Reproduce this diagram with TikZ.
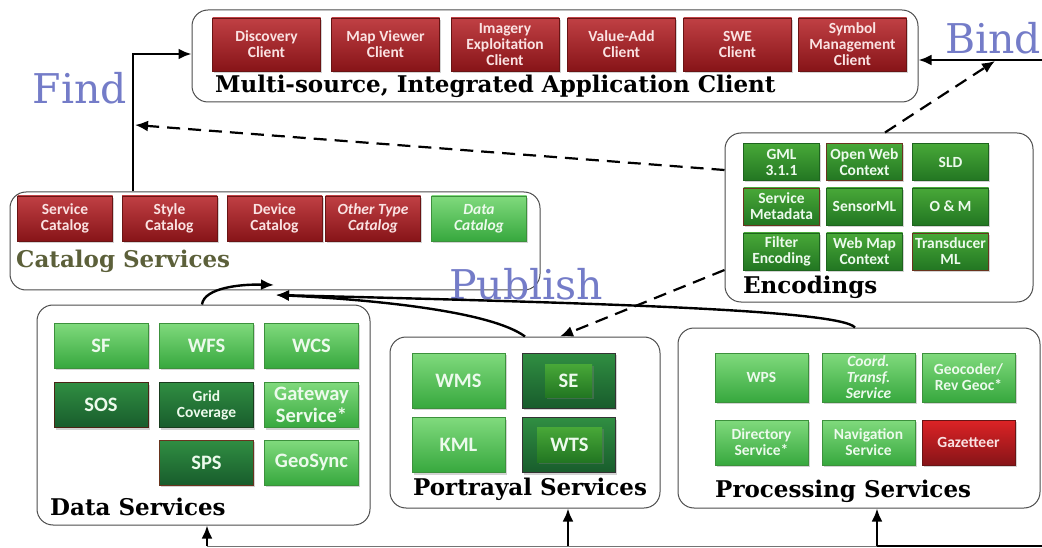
\documentclass[tikz,border=0pt]{standalone}
\usepackage{fontspec}
\setmainfont{Carlito}
\newfontfamily\ttlfont{DejaVu Serif}
\usetikzlibrary{arrows.meta}
\usetikzlibrary{shadows}

\definecolor{redtop}{RGB}{192,64,68}
\definecolor{redbot}{RGB}{135,20,24}
\definecolor{redline}{RGB}{105,20,20}
\definecolor{redtext}{RGB}{250,226,226}
\definecolor{lgtop}{RGB}{128,218,125}
\definecolor{lgbot}{RGB}{55,168,62}
\definecolor{lgline}{RGB}{60,145,60}
\definecolor{dgtop}{RGB}{48,142,66}
\definecolor{dgbot}{RGB}{24,92,44}
\definecolor{dgline}{RGB}{25,60,30}
\definecolor{egtop}{RGB}{72,168,56}
\definecolor{egbot}{RGB}{34,118,34}
\definecolor{egline}{RGB}{30,100,30}
\definecolor{brownline}{RGB}{105,52,30}
\definecolor{gtext}{RGB}{236,250,236}
\definecolor{findblue}{RGB}{116,124,200}
\definecolor{catolive}{RGB}{92,96,58}

\begin{document}
\begin{tikzpicture}[x=1pt,y=-1pt,
    svc/.style={draw, line width=0.6pt, align=center, inner sep=1pt, text=gtext,
      font=\bfseries\fontsize{15.5}{16}\selectfont,
      drop shadow={shadow xshift=1.5pt,shadow yshift=-2pt,opacity=.35}},
    svcred/.style={svc, draw=redline, top color=redtop, bottom color=redbot, text=redtext},
    svclg/.style={svc, draw=lgline, top color=lgtop, bottom color=lgbot},
    svcdg/.style={svc, draw=dgline, top color=dgtop, bottom color=dgbot},
    svceg/.style={svc, draw=egline, top color=egtop, bottom color=egbot},
    slant/.style={font=\bfseries\itshape\fontsize{15.5}{16}\selectfont},
    bigtxt/.style={font=\bfseries\fontsize{20.5}{21.5}\selectfont},
    grp/.style={draw=black!70, line width=1pt, rounded corners=16pt},
    ttl/.style={anchor=base west, inner sep=0pt, font=\ttlfont\bfseries\fontsize{23}{23}\selectfont},
    verb/.style={inner sep=0pt, text=findblue, font=\ttlfont\fontsize{41}{41}\selectfont},
    arr/.style={line width=2.4pt, -{Latex[length=13pt,width=11pt]}},
    dasharrow/.style={line width=2.2pt, dash pattern=on 13pt off 8pt, -{Latex[length=13pt,width=11pt]}}]

\useasboundingbox (0,0) rectangle (1042,548);

% groups
\node[grp, minimum width=726pt, minimum height=92pt] (clientbox) at (555,56) {};
\node[grp, minimum width=530pt, minimum height=98pt] (catbox) at (275,241) {};
\node[grp, minimum width=308pt, minimum height=169pt] (encbox) at (879,217.5) {};
\node[grp, minimum width=333pt, minimum height=220pt] (datbox) at (203.5,415) {};
\node[grp, minimum width=270pt, minimum height=171pt] (portbox) at (525,422.5) {};
\node[grp, minimum width=362pt, minimum height=180pt] (procbox) at (859,418) {};

\node[verb] (find) at (80,88) {Find};
\node[verb] (bind) at (993,38) {Bind};
\node[verb] (publish) at (526,284) {Publish};

\node[ttl] (clientttl) at (215,93) {Multi-source, Integrated Application Client};
\node[ttl, text=catolive] (catttl) at (16,268) {Catalog Services};
\node[ttl] (encttl) at (743,294) {Encodings};
\node[ttl] (datttl) at (50,515) {Data Services};
\node[ttl] (portttl) at (413,495) {Portrayal Services};
\node[ttl] (procttl) at (715,497) {Processing Services};

% client row
\begin{scope}[nodes={svcred, minimum width=108pt, minimum height=53pt}]
\node (disc) at (266.5,44.5) {Discovery\\Client};
\node (mapv) at (385.5,44.5) {Map Viewer\\Client};
\node (imag) at (505,44.5) {Imagery\\Exploitation\\Client};
\node (vadd) at (621.5,44.5) {Value-Add\\Client};
\node (swe) at (737.5,44.5) {SWE\\Client};
\node (symb) at (852.5,44.5) {Symbol\\Management\\Client};
\end{scope}

% catalogs
\begin{scope}[nodes={minimum width=95pt, minimum height=45pt}]
\node[svcred] (servcat) at (65,218.5) {Service\\Catalog};
\node[svcred] (stylecat) at (169.5,218.5) {Style\\Catalog};
\node[svcred] (devcat) at (274.5,218.5) {Device\\Catalog};
\node[svcred, slant] (othercat) at (373,218.5) {Other Type\\Catalog};
\node[svclg, slant] (datacat) at (479,218.5) {Data\\Catalog};
\end{scope}

% encodings
\begin{scope}[nodes={svceg, minimum width=76pt, minimum height=37pt}]
\node (gml) at (781.5,162) {GML\\3.1.1};
\node[draw=brownline] (owc) at (864.5,162) {Open Web\\Context};
\node (sld) at (950.5,162) {SLD};
\node[draw=brownline] (smeta) at (781.5,206.5) {Service\\Metadata};
\node (sensorml) at (864.5,206.5) {SensorML};
\node (om) at (950.5,206.5) {O \& M};
\node (filter) at (781.5,251.5) {Filter\\Encoding};
\node (wmc) at (864.5,251.5) {Web Map\\Context};
\node[draw=brownline] (tml) at (950.5,251.5) {Transducer\\ML};
\end{scope}

% data services
\begin{scope}[nodes={minimum width=94pt, minimum height=45pt}]
\node[svclg, bigtxt] (sf) at (101,345.5) {SF};
\node[svclg, bigtxt] (wfs) at (206.5,345.5) {WFS};
\node[svclg, bigtxt] (wcs) at (311.5,345.5) {WCS};
\node[svcdg, bigtxt, draw=brownline!70!black] (sos) at (101,405) {SOS};
\node[svcdg] (grid) at (206.5,405) {Grid\\Coverage};
\node[svclg, bigtxt] (gateway) at (311.5,405) {Gateway\\Service*};
\node[svcdg, bigtxt, draw=brownline] (sps) at (206.5,462.5) {SPS};
\node[svclg, bigtxt] (geosync) at (311.5,462.5) {GeoSync};
\end{scope}

% portrayal
\begin{scope}[nodes={minimum width=93pt, minimum height=55pt}]
\node[svclg, bigtxt] (wms) at (458.5,380.5) {WMS};
\node[svclg, bigtxt] (kml) at (458.5,445) {KML};
\node[svcdg, draw=black!80] (seouter) at (568.5,380.5) {};
\node[svcdg, draw=black!80] (wtsouter) at (568.5,445) {};
\end{scope}
\node[svceg, bigtxt, draw=none, minimum width=47pt, minimum height=33pt] (se) at (568.5,380.5) {SE};
\node[svceg, bigtxt, draw=none, minimum width=65pt, minimum height=35pt] (wts) at (569.5,444.5) {WTS};

% processing
\begin{scope}[nodes={minimum width=93pt}]
\node[svclg, minimum height=49pt] (wps) at (761.5,377.5) {WPS};
\node[svclg, slant, minimum height=49pt] (coord) at (868.5,377.5) {Coord.\\Transf.\\Service};
\node[svclg, minimum height=49pt] (geocoder) at (968.5,377.5) {Geocoder/\\Rev Geoc*};
\node[svclg, minimum height=45pt] (directory) at (761.5,442.5) {Directory\\Service*};
\node[svclg, minimum height=45pt] (navigation) at (868.5,442.5) {Navigation\\Service};
\node[svcred, top color=red!45!redtop, minimum height=45pt] (gazetteer) at (968.5,442.5) {Gazetteer};
\end{scope}

% connectors
\coordinate (findc) at (133,54);
\coordinate (bindc) at (1042,60);
\coordinate (bindtip) at (995,61);
\coordinate (encup) at (885,0);
\coordinate (findtip) at (135,125);
\coordinate (encleft) at (0,170);
\coordinate (enclow) at (0,270);
\coordinate (pubdash) at (560,0);
\coordinate (datup) at (202,0);
\coordinate (portup) at (525,0);
\coordinate (procup) at (855,0);
\coordinate (pubtipA) at (274,285);
\coordinate (pubtipB) at (276,295);
\coordinate (base0) at (207,546);
\coordinate (base1) at (568,546);
\coordinate (base2) at (877,546);
\coordinate (baseR) at (1042,546);

\draw[arr] (findc |- catbox.north) -- (findc) -- (findc -| clientbox.west);
\draw[arr] (bindc) -- (bindc -| clientbox.east);
\draw[dasharrow] (encup |- encbox.north) -- (bindtip);
\draw[dasharrow] (encleft -| encbox.west) -- (findtip);
\draw[dasharrow] (enclow -| encbox.west) -- (pubdash |- portbox.north);

\draw[arr] (datup |- datbox.north) .. controls (204,288) and (240,284) .. (pubtipA);
\draw[arr] (portup |- portbox.north) .. controls (492,312) and (380,300) .. (pubtipB);
\draw[arr] (procup |- procbox.north) .. controls (840,310) and (600,303) .. (pubtipB);

\draw[line width=0.8pt, black!55] (base0) -- (base2);
\draw[line width=2pt] (base2) -- (baseR);
\draw[arr] (base0) -- (base0 |- datbox.south);
\draw[arr] (base1) -- (base1 |- portbox.south);
\draw[arr] (base2) -- (base2 |- procbox.south);
\end{tikzpicture}
\end{document}
